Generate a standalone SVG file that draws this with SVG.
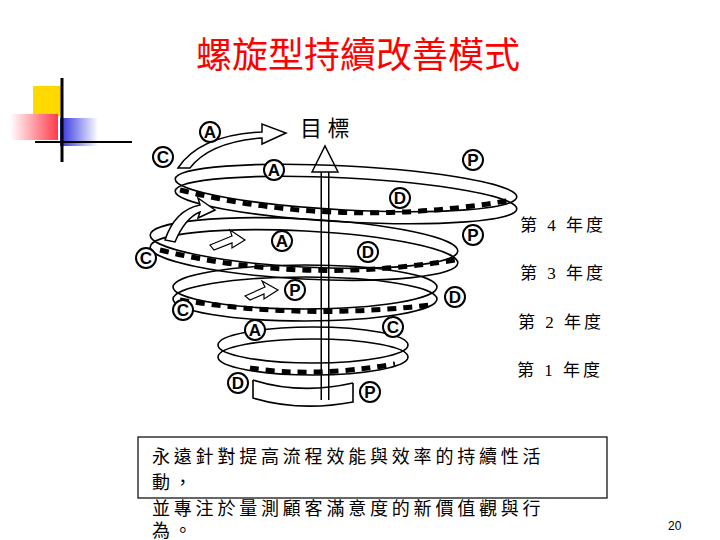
<svg xmlns="http://www.w3.org/2000/svg" width="720" height="540" viewBox="0 0 720 540">
<style>
.ring{fill:none;stroke:#000;stroke-width:1.6}
.win{fill:none;stroke:#000;stroke-width:5;stroke-dasharray:9 7}
.lt{font-family:"Liberation Sans",sans-serif;font-weight:bold;font-size:17px;text-anchor:middle;fill:#000}
.bub{fill:#fff;stroke:#000;stroke-width:2}
.yr{font-family:"Liberation Serif","Noto Sans CJK TC",serif;font-size:17px;fill:#000;letter-spacing:3px}
.body{font-family:"Noto Sans CJK TC",sans-serif;font-size:18px;fill:#000;letter-spacing:3.8px}
</style>
<rect width="720" height="540" fill="#fff"/>
<text x="358" y="68" text-anchor="middle" font-family="Noto Sans CJK TC,serif" font-size="36" fill="#ff0000">螺旋型持續改善模式</text>
<g id="deco">
<rect x="33" y="86" width="28" height="30" fill="#ffd800"/>
<defs><linearGradient id="pk" x1="0" x2="1"><stop offset="0" stop-color="#fff"/><stop offset="1" stop-color="#ff3a4a"/></linearGradient>
<linearGradient id="bl" x1="0" x2="1"><stop offset="0" stop-color="#3030e0"/><stop offset="1" stop-color="#fff"/></linearGradient></defs>
<rect x="10" y="114" width="48" height="26" fill="url(#pk)"/>
<rect x="60" y="118" width="38" height="28" fill="url(#bl)"/>
<line x1="62" y1="78" x2="62" y2="162" stroke="#000" stroke-width="3"/>
<line x1="35" y1="142" x2="132" y2="142" stroke="#000" stroke-width="2"/>
</g>
<g id="spiral">
<line x1="325" y1="400" x2="325" y2="170" stroke="#000" stroke-width="9"/>
<line x1="325" y1="400" x2="325" y2="170" stroke="#fff" stroke-width="6"/>
<polygon points="312,172 325,146 338,172" fill="#fff" stroke="#000" stroke-width="1.5"/>
<g id="ring0"><path class="ring" d="M253,380 Q300,395 353,383 M253,380 L253,398 Q300,412 353,402 L353,383"/></g>
<g id="ring1"><ellipse class="ring" cx="313" cy="345" rx="95" ry="18"/><ellipse class="ring" cx="313" cy="357" rx="95" ry="18"/><path class="win" d="M250,368 Q313,378 395,364"/></g>
<g id="ring2"><ellipse class="ring" cx="305" cy="287" rx="132" ry="22"/><ellipse class="ring" cx="305" cy="299" rx="132" ry="22"/><path class="win" d="M180,300 Q305,320 430,305"/></g>
<g id="ring3"><ellipse class="ring" cx="304" cy="243" rx="154" ry="24" transform="rotate(3 304 243)"/><ellipse class="ring" cx="304" cy="255" rx="154" ry="24" transform="rotate(3 304 255)"/><path class="win" d="M160,250 Q300,285 455,260"/></g>
<g id="ring4"><ellipse class="ring" cx="346" cy="188" rx="171" ry="22" transform="rotate(3 346 188)"/><ellipse class="ring" cx="346" cy="200" rx="171" ry="22" transform="rotate(3 346 200)"/><path class="win" d="M180,190 Q340,230 512,200"/></g>
<path d="M178,168 Q200,135 262,132 L262,124 L286,133 L262,144 L262,138 Q210,142 190,168 Z" fill="#fff" stroke="#000" stroke-width="1.5"/>
<path d="M165,240 Q175,210 200,205 L198,198 L215,210 L198,218 L200,212 Q185,218 175,242 Z" fill="#fff" stroke="#000" stroke-width="1.5"/>
<path d="M210,245 L232,236 L230,230 L245,240 L232,248 L232,243 L214,250 Z" fill="#fff" stroke="#000" stroke-width="1.2"/>
<path d="M245,296 L265,287 L262,281 L278,290 L264,299 L264,294 L250,300 Z" fill="#fff" stroke="#000" stroke-width="1.2"/>
</g>
<g id="letters">
<circle class="bub" cx="210" cy="132" r="10"/><text class="lt" x="210" y="138">A</text>
<circle class="bub" cx="163" cy="157" r="10"/><text class="lt" x="163" y="163">C</text>
<circle class="bub" cx="274" cy="170" r="10"/><text class="lt" x="274" y="176">A</text>
<circle class="bub" cx="473" cy="160" r="10"/><text class="lt" x="473" y="166">P</text>
<circle class="bub" cx="400" cy="198" r="10"/><text class="lt" x="400" y="204">D</text>
<circle class="bub" cx="473" cy="235" r="10"/><text class="lt" x="473" y="241">P</text>
<circle class="bub" cx="282" cy="241" r="10"/><text class="lt" x="282" y="247">A</text>
<circle class="bub" cx="368" cy="252" r="10"/><text class="lt" x="368" y="258">D</text>
<circle class="bub" cx="146" cy="258" r="10"/><text class="lt" x="146" y="264">C</text>
<circle class="bub" cx="295" cy="290" r="10"/><text class="lt" x="295" y="296">P</text>
<circle class="bub" cx="455" cy="297" r="10"/><text class="lt" x="455" y="303">D</text>
<circle class="bub" cx="183" cy="310" r="10"/><text class="lt" x="183" y="316">C</text>
<circle class="bub" cx="255" cy="330" r="10"/><text class="lt" x="255" y="336">A</text>
<circle class="bub" cx="393" cy="327" r="10"/><text class="lt" x="393" y="333">C</text>
<circle class="bub" cx="238" cy="383" r="10"/><text class="lt" x="238" y="389">D</text>
<circle class="bub" cx="370" cy="392" r="10"/><text class="lt" x="370" y="398">P</text>
</g>
<text x="300" y="136" font-family="Liberation Serif,Noto Sans CJK TC,serif" font-size="22" fill="#000">目 標</text>
<g id="years">
<text class="yr" x="520" y="231">第 4 年度</text>
<text class="yr" x="520" y="279">第 3 年度</text>
<text class="yr" x="518" y="328">第 2 年度</text>
<text class="yr" x="517" y="376">第 1 年度</text>
</g>
<g id="note">
<rect x="138" y="437" width="469" height="61" fill="none" stroke="#000" stroke-width="1.2"/>
<text class="body" x="152" y="463">永遠針對提高流程效能與效率的持續性活</text>
<text class="body" x="152" y="489">動，</text>
<text class="body" x="152" y="515">並專注於量測顧客滿意度的新價值觀與行</text>
<text class="body" x="152" y="537">為。</text>
</g>
<text x="668" y="530" font-family="Liberation Sans,sans-serif" font-size="12" fill="#000">20</text>
</svg>
